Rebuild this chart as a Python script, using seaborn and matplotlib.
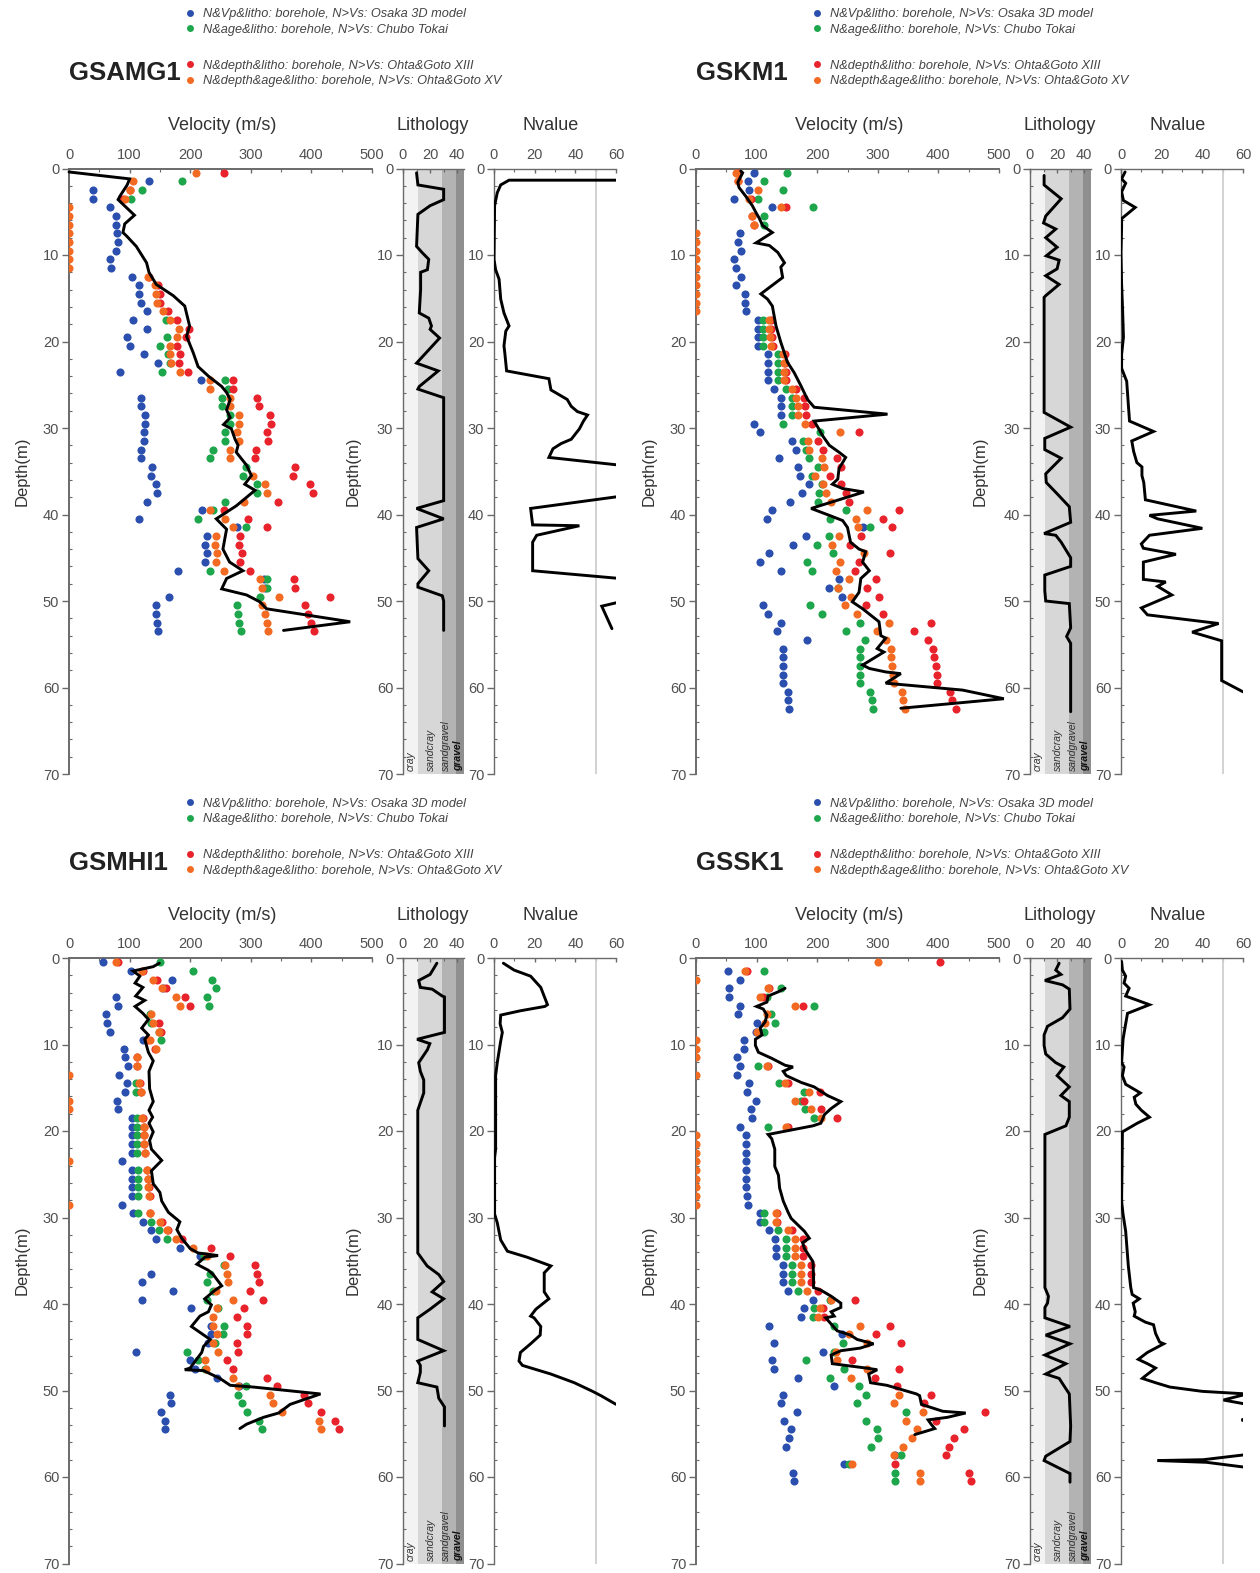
import matplotlib
matplotlib.use("Agg")
import matplotlib.pyplot as plt
from matplotlib.lines import Line2D
from matplotlib.ticker import MultipleLocator
import seaborn as sns

# ---------------------------------------------------------------- data
STATIONS = ["GSAMG1", "GSKM1", "GSMHI1", "GSSK1"]
LEGEND_LABELS = [
    "N&Vp&litho: borehole, N>Vs: Osaka 3D model",
    "N&age&litho: borehole, N>Vs: Chubo Tokai",
    "N&depth&litho: borehole, N>Vs: Ohta&Goto XIII",
    "N&depth&age&litho: borehole, N>Vs: Ohta&Goto XV",
]
LITH_CLASSES = ["cray", "sandcray", "sandgravel", "gravel"]
LITH_EDGES = [0, 11, 29, 39, 45]
VEL_TICKS = [0, 100, 200, 300, 400, 500]
LITH_TICKS = [0, 20, 40]
NVAL_TICKS = [0, 20, 40, 60]
DEPTH_TICKS = [0, 10, 20, 30, 40, 50, 60, 70]
NVAL_REF = 50

# (depth m, value) pairs
AMG_LINE = [(0.4, 0), (1.2, 100), (1.9, 96), (3.2, 84), (3.6, 81), (3.8, 84), (5.4, 108), (6.4, 92), (7.4, 89), (7.8, 95),
            (9.0, 111), (10.9, 128), (12.0, 132), (13.4, 144), (14.7, 172), (15.9, 191), (18.2, 199), (19.4, 194),
            (21.3, 205), (22.9, 213), (24.0, 230), (25.2, 252), (25.9, 260), (26.7, 266), (27.9, 260), (28.8, 266),
            (29.6, 255), (30.1, 268), (31.3, 274), (32.0, 279), (32.8, 276), (34.3, 293), (35.5, 301), (36.5, 290),
            (37.2, 307), (39.0, 276), (40.5, 243), (41.7, 260), (44.0, 254), (45.5, 265), (46.5, 287), (47.4, 260),
            (48.6, 252), (49.3, 293), (50.1, 315), (50.9, 326), (52.4, 464), (53.4, 354)]
AMG_BLUE = [(1.5, 132), (2.5, 40), (3.5, 40), (4.5, 67), (5.5, 77), (6.5, 78), (7.5, 79), (8.5, 81), (9.5, 78), (10.5, 68),
            (11.5, 70), (12.5, 104), (13.5, 116), (14.5, 116), (15.5, 118), (16.5, 129), (17.5, 106), (18.5, 128),
            (19.5, 95), (20.5, 100), (21.5, 123), (22.5, 147), (23.5, 84), (24.5, 217), (26.5, 119), (27.5, 119),
            (28.5, 125), (29.5, 126), (30.5, 123), (31.5, 124), (32.5, 119), (33.5, 119), (34.5, 137), (35.5, 136),
            (36.5, 144), (37.5, 146), (38.5, 129), (39.5, 219), (40.5, 116), (41.5, 278), (42.5, 227), (43.5, 224),
            (44.5, 227), (45.5, 225), (46.5, 180), (47.5, 321), (48.5, 324), (49.5, 165), (50.5, 143), (51.5, 144),
            (52.5, 146), (53.5, 147)]
AMG_GREEN = [(1.5, 186), (2.5, 120), (3.5, 102), (17.5, 160), (19.5, 162), (20.5, 150), (21.5, 163), (22.5, 166),
             (23.5, 153), (24.5, 257), (25.5, 262), (26.5, 252), (27.5, 252), (28.5, 266), (29.5, 266), (30.5, 257),
             (31.5, 258), (32.5, 238), (33.5, 233), (34.5, 292), (35.5, 287), (36.5, 310), (37.5, 310), (38.5, 257),
             (39.5, 238), (40.5, 213), (41.5, 292), (46.5, 232), (47.5, 326), (48.5, 326), (49.5, 316), (50.5, 277),
             (51.5, 279), (52.5, 281), (53.5, 284)]
AMG_RED = [(0.5, 255), (2.5, 100), (3.5, 89), (12.5, 132), (13.5, 147), (14.5, 150), (15.5, 150), (16.5, 163),
           (17.5, 179), (18.5, 198), (19.5, 193), (20.5, 178), (21.5, 183), (22.5, 181), (23.5, 197), (24.5, 270),
           (25.5, 270), (26.5, 311), (27.5, 314), (28.5, 332), (29.5, 334), (30.5, 326), (31.5, 328), (32.5, 309),
           (33.5, 307), (34.5, 373), (35.5, 369), (36.5, 398), (37.5, 402), (38.5, 345), (39.5, 256), (40.5, 296),
           (41.5, 326), (42.5, 282), (43.5, 281), (44.5, 285), (45.5, 283), (46.5, 299), (47.5, 372), (48.5, 373),
           (49.5, 431), (50.5, 389), (51.5, 394), (52.5, 400), (53.5, 404)]
AMG_ORANGE = [(0.5, 209), (1.5, 106), (2.5, 101), (3.5, 92), (4.5, 0), (5.5, 0), (6.5, 0), (7.5, 0), (8.5, 0), (9.5, 0),
              (10.5, 0), (11.5, 0), (12.5, 131), (13.5, 142), (14.5, 144), (15.5, 146), (16.5, 155), (17.5, 166),
              (18.5, 181), (19.5, 179), (20.5, 166), (21.5, 166), (22.5, 169), (23.5, 183), (24.5, 232), (25.5, 232),
              (26.5, 265), (27.5, 266), (28.5, 280), (29.5, 280), (30.5, 277), (31.5, 280), (32.5, 266), (33.5, 265),
              (35.5, 304), (36.5, 324), (37.5, 326), (38.5, 289), (39.5, 233), (40.5, 257), (41.5, 271), (42.5, 243),
              (43.5, 241), (44.5, 244), (45.5, 243), (46.5, 255), (47.5, 315), (48.5, 318), (49.5, 346), (50.5, 318),
              (51.5, 324), (52.5, 326), (53.5, 329)]
AMG_LITH = [(0.5, 10), (1.9, 11), (2.4, 30), (3.6, 30), (4.3, 20), (5.3, 11), (9.0, 10), (9.7, 14), (10.5, 19),
            (11.7, 18), (12.0, 13), (14.0, 13), (16.7, 12), (17.3, 19), (18.2, 21), (18.6, 20), (19.6, 27), (22.5, 10),
            (23.4, 26), (25.2, 12), (25.5, 11), (26.5, 30), (38.4, 30), (39.3, 10), (40.5, 30), (41.5, 10), (45.1, 11),
            (46.5, 19), (48.0, 11), (48.4, 11), (49.4, 29), (50.0, 30), (53.4, 30)]
AMG_NVAL = [(1.35, 62), (1.35, 7.4), (1.9, 3.3), (2.8, 1.6), (4.3, 0.3), (10.5, 0), (11.7, 0.8), (12.8, 2.5),
            (15.1, 3.3), (16.7, 4.9), (18.2, 7.4), (18.8, 5.8), (20.5, 4.9), (21.3, 5.3), (23.4, 6.2), (24.3, 27),
            (25.6, 28), (26.7, 36), (27.5, 38), (28.1, 41), (28.5, 46), (29.2, 44), (30.1, 42), (31.3, 38), (31.8, 33),
            (32.4, 29), (33.4, 27), (34.3, 62), (37.9, 62), (39.3, 18), (41.2, 19), (41.3, 42), (42.4, 21), (43.2, 19),
            (46.5, 19), (47.4, 62), (50.1, 62), (50.6, 53), (53.2, 58)]

KM_LINE = [(0.3, 74), (0.5, 77), (1.6, 69), (2.2, 71), (3.2, 82), (4.3, 93), (5.1, 99), (5.7, 104), (6.6, 110),
           (7.4, 126), (8.6, 99), (8.9, 121), (9.7, 135), (10.9, 146), (11.4, 140), (12.6, 143), (14.5, 107),
           (15.1, 118), (15.9, 126), (18.2, 132), (20.1, 140), (22.4, 151), (23.6, 162), (25.1, 173), (26.7, 184),
           (27.6, 195), (28.4, 316), (29.2, 195), (29.9, 201), (30.9, 209), (32.0, 220), (32.8, 236), (33.4, 247),
           (34.7, 236), (35.9, 234), (36.5, 225), (37.0, 242), (37.4, 277), (39.3, 190), (40.1, 220), (40.7, 242),
           (41.5, 250), (43.2, 255), (44.0, 269), (44.3, 280), (45.5, 275), (46.5, 286), (47.4, 272), (49.0, 269),
           (50.1, 258), (50.9, 275), (52.4, 302), (54.0, 305), (54.3, 313), (55.5, 299), (55.9, 310), (57.4, 275),
           (57.8, 286), (58.2, 313), (58.4, 338), (59.5, 313), (60.3, 440), (61.3, 508), (62.4, 338)]
KM_BLUE = [(0.5, 96), (1.5, 85), (2.5, 88), (3.5, 63), (4.5, 125), (7.5, 73), (8.5, 70), (9.5, 74), (10.5, 62),
           (11.5, 66), (12.5, 74), (13.5, 66), (14.5, 81), (15.5, 81), (16.5, 82), (17.5, 102), (18.5, 102), (19.5, 102),
           (20.5, 102), (21.5, 119), (22.5, 119), (23.5, 119), (24.5, 119), (25.5, 129), (26.5, 140), (27.5, 140),
           (28.5, 140), (29.5, 96), (30.5, 105), (31.5, 158), (32.5, 165), (33.5, 137), (34.5, 169), (35.5, 171),
           (36.5, 187), (37.5, 175), (38.5, 155), (39.5, 125), (40.5, 117), (41.5, 275), (42.5, 181), (43.5, 160),
           (44.5, 121), (45.5, 106), (46.5, 141), (47.5, 236), (48.5, 220), (49.5, 241), (50.5, 110), (51.5, 118),
           (52.5, 141), (53.5, 134), (54.5, 183), (55.5, 143), (56.5, 143), (57.5, 143), (58.5, 144), (59.5, 144),
           (60.5, 151), (61.5, 152), (62.5, 154)]
KM_GREEN = [(0.5, 150), (1.5, 113), (2.5, 143), (3.5, 103), (4.5, 193), (5.5, 112), (6.5, 112), (17.5, 110),
            (18.5, 110), (19.5, 110), (20.5, 110), (21.5, 135), (22.5, 135), (23.5, 135), (24.5, 135), (25.5, 148),
            (26.5, 159), (27.5, 159), (28.5, 159), (29.5, 144), (30.5, 204), (31.5, 176), (32.5, 182), (33.5, 187),
            (34.5, 202), (35.5, 191), (36.5, 208), (37.5, 203), (38.5, 202), (39.5, 247), (40.5, 221), (41.5, 287),
            (42.5, 220), (43.5, 199), (44.5, 226), (45.5, 183), (46.5, 192), (48.5, 234), (50.5, 188), (51.5, 208),
            (52.5, 271), (53.5, 247), (54.5, 279), (55.5, 271), (56.5, 271), (57.5, 271), (58.5, 271), (59.5, 271),
            (60.5, 287), (61.5, 290), (62.5, 292)]
KM_RED = [(0.5, 69), (1.5, 69), (3.5, 91), (4.5, 148), (5.5, 93), (6.5, 96), (17.5, 123), (18.5, 124), (19.5, 125),
          (20.5, 127), (21.5, 147), (22.5, 147), (23.5, 148), (24.5, 148), (25.5, 165), (26.5, 179), (27.5, 180),
          (28.5, 181), (29.5, 192), (30.5, 269), (31.5, 202), (32.5, 210), (33.5, 232), (34.5, 240), (35.5, 221),
          (36.5, 239), (37.5, 247), (38.5, 253), (39.5, 335), (40.5, 308), (41.5, 324), (42.5, 273), (43.5, 254),
          (44.5, 320), (45.5, 269), (46.5, 263), (47.5, 297), (48.5, 283), (49.5, 302), (50.5, 280), (51.5, 308),
          (52.5, 387), (53.5, 360), (54.5, 383), (55.5, 391), (56.5, 393), (57.5, 396), (58.5, 397), (59.5, 398),
          (60.5, 419), (61.5, 423), (62.5, 429)]
KM_ORANGE = [(0.5, 66), (1.5, 69), (2.5, 102), (3.5, 88), (4.5, 140), (5.5, 92), (6.5, 95), (7.5, 0), (8.5, 0),
             (9.5, 0), (10.5, 0), (11.5, 0), (12.5, 0), (13.5, 0), (14.5, 0), (15.5, 0), (16.5, 0), (17.5, 120),
             (18.5, 121), (19.5, 122), (20.5, 124), (21.5, 143), (22.5, 145), (23.5, 145), (24.5, 146), (25.5, 159),
             (26.5, 165), (27.5, 168), (28.5, 168), (29.5, 180), (30.5, 237), (31.5, 184), (32.5, 187), (33.5, 208),
             (34.5, 212), (35.5, 197), (36.5, 209), (37.5, 214), (38.5, 223), (39.5, 283), (40.5, 264), (41.5, 268),
             (42.5, 236), (43.5, 224), (44.5, 277), (45.5, 237), (46.5, 231), (47.5, 252), (48.5, 235), (49.5, 255),
             (50.5, 246), (51.5, 265), (52.5, 318), (53.5, 299), (54.5, 313), (55.5, 321), (56.5, 322), (57.5, 324),
             (58.5, 325), (59.5, 326), (60.5, 340), (61.5, 342), (62.5, 345)]
KM_LITH = [(0.8, 10.4), (1.9, 10.4), (3.5, 23), (5.5, 11.6), (6.3, 10), (7.0, 19), (8.0, 11.6), (9.1, 20), (10.1, 12),
           (10.6, 21.5), (11.6, 20), (12.4, 11.6), (13.4, 21.5), (14.7, 11.6), (14.9, 10.4), (28.2, 10.4), (29.9, 30),
           (31.2, 10.9), (32.5, 10.9), (33.5, 23), (35.3, 11.6), (36.3, 12), (37.6, 20), (39.1, 29), (40.9, 30),
           (42.2, 10.4), (42.4, 19), (43.2, 23), (45.0, 30), (46.0, 30), (47.0, 10.9), (48.8, 10.9), (50.0, 11.6),
           (50.3, 29), (53.1, 30), (54.1, 27), (54.9, 30), (62.8, 30)]
KM_NVAL = [(0.4, 2), (1.2, 0.3), (1.7, 2.3), (2.7, 0.3), (3.7, 1.2), (4.5, 7), (5.8, 0.3), (6.8, 0.3), (9.8, 0),
           (13.4, 0.3), (16.4, 0.8), (19.5, 1.2), (21.5, 0.3), (23.1, 0.3), (24.6, 2.8), (27.6, 3.7), (29.2, 4.2),
           (30.4, 16), (31.5, 5.3), (32.7, 6.2), (34.0, 7.8), (34.5, 10.3), (35.5, 10.3), (36.3, 11.2), (38.3, 12),
           (39.6, 37), (40.1, 14), (40.5, 18), (41.6, 40), (42.4, 14), (43.4, 10), (43.9, 11), (44.6, 27), (45.5, 11),
           (47.5, 11), (47.8, 22), (48.3, 18), (49.3, 25), (50.8, 10), (51.6, 13), (52.6, 48), (53.6, 35),
           (54.6, 49.5), (59.2, 49.5), (60.5, 60)]

MHI_LINE = [(0.6, 149), (1.0, 139), (1.5, 106), (2.1, 117), (2.9, 109), (3.4, 122), (4.4, 110), (4.9, 125), (5.6, 109),
            (6.4, 122), (7.1, 131), (8.1, 120), (8.9, 131), (9.4, 125), (10.9, 131), (11.9, 139), (13.1, 132),
            (15.1, 133), (16.6, 139), (17.6, 132), (18.4, 138), (19.1, 132), (20.1, 139), (21.1, 133), (22.1, 136),
            (23.4, 153), (24.6, 136), (26.1, 139), (27.1, 150), (28.1, 153), (29.4, 164), (30.5, 183), (31.4, 178),
            (32.4, 186), (33.6, 200), (34.1, 213), (34.4, 246), (34.6, 224), (35.4, 211), (36.1, 230), (36.6, 238),
            (37.9, 252), (38.4, 241), (39.4, 224), (40.1, 235), (40.9, 230), (41.4, 216), (42.6, 202), (44.1, 233),
            (44.9, 222), (45.6, 219), (47.4, 200), (47.6, 191), (47.7, 222), (48.6, 249), (49.4, 266), (49.6, 304),
            (50.4, 415), (51.6, 365), (52.6, 346), (53.1, 321), (53.9, 293), (54.4, 282)]
MHI_BLUE = [(0.5, 56), (1.5, 103), (2.5, 170), (3.5, 155), (4.5, 78), (5.5, 81), (6.5, 61), (7.5, 62), (8.5, 67),
            (9.5, 122), (10.5, 90), (11.5, 92), (12.5, 98), (13.5, 83), (14.5, 96), (15.5, 93), (16.5, 80), (17.5, 81),
            (18.5, 104), (19.5, 104), (20.5, 104), (21.5, 104), (22.5, 104), (23.5, 87), (24.5, 104), (25.5, 104),
            (26.5, 104), (27.5, 104), (28.5, 88), (29.5, 106), (30.5, 122), (31.5, 136), (32.5, 144), (33.5, 183),
            (34.5, 216), (36.5, 135), (37.5, 120), (38.5, 172), (39.5, 121), (40.5, 202), (42.5, 235), (43.5, 235),
            (44.5, 230), (45.5, 111), (46.5, 200), (47.5, 208), (48.5, 244), (49.5, 280), (50.5, 166), (51.5, 169),
            (52.5, 151), (53.5, 158), (54.5, 159)]
MHI_GREEN = [(0.5, 150), (1.5, 204), (2.5, 236), (3.5, 243), (4.5, 228), (5.5, 231), (6.5, 133), (7.5, 136),
             (8.5, 149), (9.5, 152), (14.5, 110), (15.5, 111), (18.5, 112), (19.5, 112), (20.5, 112), (21.5, 112),
             (22.5, 112), (24.5, 114), (25.5, 114), (26.5, 114), (27.5, 114), (29.5, 114), (30.5, 135), (31.5, 148),
             (32.5, 162), (34.5, 223), (35.5, 255), (36.5, 232), (37.5, 228), (38.5, 238), (39.5, 227), (40.5, 246),
             (42.5, 255), (43.5, 254), (44.5, 241), (45.5, 194), (46.5, 213), (47.5, 224), (49.5, 292), (50.5, 279),
             (51.5, 285), (52.5, 293), (53.5, 313), (54.5, 318)]
MHI_RED = [(0.5, 81), (1.5, 122), (2.5, 146), (3.5, 160), (4.5, 191), (5.5, 200), (7.5, 148), (8.5, 152), (9.5, 131),
           (10.5, 142), (11.5, 113), (12.5, 113), (14.5, 117), (15.5, 119), (18.5, 122), (19.5, 124), (20.5, 124),
           (21.5, 124), (22.5, 126), (24.5, 129), (25.5, 131), (26.5, 132), (27.5, 133), (29.5, 134), (30.5, 154),
           (31.5, 164), (32.5, 187), (33.5, 235), (34.5, 266), (35.5, 307), (36.5, 310), (37.5, 313), (38.5, 299),
           (39.5, 320), (40.5, 288), (41.5, 277), (42.5, 293), (43.5, 294), (44.5, 278), (45.5, 279), (46.5, 261),
           (47.5, 270), (48.5, 326), (49.5, 344), (50.5, 387), (51.5, 395), (52.5, 416), (53.5, 439), (54.5, 446)]
MHI_ORANGE = [(0.5, 78), (1.5, 121), (2.5, 138), (3.5, 153), (4.5, 176), (5.5, 183), (6.5, 135), (7.5, 138),
              (8.5, 149), (9.5, 133), (10.5, 144), (11.5, 112), (12.5, 112), (13.5, 0), (14.5, 116), (15.5, 118),
              (16.5, 0), (17.5, 0), (18.5, 121), (19.5, 123), (20.5, 123), (21.5, 123), (22.5, 125), (23.5, 0),
              (24.5, 128), (25.5, 130), (26.5, 131), (27.5, 132), (28.5, 0), (29.5, 133), (30.5, 150), (31.5, 161),
              (32.5, 176), (33.5, 204), (34.5, 227), (35.5, 257), (36.5, 260), (37.5, 263), (38.5, 243), (39.5, 271),
              (40.5, 244), (41.5, 238), (42.5, 238), (43.5, 244), (44.5, 238), (45.5, 246), (46.5, 224), (47.5, 226),
              (48.5, 271), (49.5, 279), (50.5, 332), (51.5, 337), (52.5, 351), (53.5, 412), (54.5, 416)]
MHI_LITH = [(0.6, 25), (1.9, 20), (2.6, 11.6), (3.4, 12.8), (3.6, 21.5), (4.4, 29), (4.5, 30.6), (8.6, 30.6),
            (9.4, 10.4), (9.9, 19.8), (10.6, 18), (12.1, 11.6), (13.1, 12.8), (14.1, 15.3), (15.6, 15.3), (17.6, 10.9),
            (34.1, 10.9), (35.6, 17.8), (36.6, 26.4), (37.4, 30), (38.6, 21.5), (39.4, 30), (40.6, 20), (41.6, 10.9),
            (44.1, 10.9), (45.4, 30), (46.6, 10.9), (47.1, 12.8), (47.9, 12.8), (49.1, 10.9), (49.6, 25), (50.9, 26.4),
            (51.9, 30.6), (54.1, 30.6)]
MHI_NVAL = [(0.6, 4.6), (1.4, 9.9), (2.1, 18), (3.4, 23), (5.4, 26.3), (5.6, 25), (6.1, 13), (6.6, 3.3), (7.6, 3),
            (8.6, 4.1), (9.6, 3.3), (12.1, 1.6), (13.6, 0.8), (22.1, 0.8), (23.1, 0.3), (29.6, 0.3), (30.6, 1.6),
            (32.6, 3.3), (33.9, 6.6), (34.6, 16.4), (35.6, 28), (36.4, 24.7), (37.1, 24.7), (38.6, 24.7), (39.4, 27),
            (40.6, 20.6), (41.4, 18), (41.6, 19.7), (42.6, 23), (43.6, 22.7), (44.6, 18), (45.6, 13), (46.6, 12.3),
            (47.1, 14), (48.1, 28), (49.1, 39.5), (50.1, 48.5), (50.6, 52.6), (51.6, 60)]

SK_LINE = [(3.5, 147), (3.9, 136), (4.4, 119), (5.1, 117), (5.6, 100), (5.9, 111), (6.6, 117), (7.4, 114), (8.1, 106),
           (8.9, 109), (9.4, 98), (10.1, 98), (10.9, 103), (11.6, 125), (12.4, 147), (12.6, 160), (13.1, 144),
           (13.6, 149), (14.4, 174), (14.9, 195), (15.9, 217), (16.6, 239), (17.4, 223), (18.1, 212), (19.1, 206),
           (19.4, 193), (20.4, 119), (20.9, 125), (22.1, 130), (24.1, 130), (25.1, 136), (26.6, 138), (28.1, 144),
           (29.4, 152), (30.1, 157), (31.6, 179), (32.4, 187), (32.9, 176), (33.6, 179), (35.1, 193), (36.9, 194),
           (38.1, 194), (38.4, 206), (39.1, 223), (39.9, 239), (40.4, 239), (40.9, 223), (41.4, 228), (41.6, 214),
           (43.1, 233), (43.6, 255), (44.1, 266), (44.6, 293), (45.1, 271), (45.4, 239), (45.9, 223), (46.9, 225),
           (47.4, 280), (47.6, 299), (48.1, 285), (49.1, 288), (49.4, 315), (50.4, 364), (50.6, 369), (51.6, 372),
           (52.4, 407), (52.6, 445), (53.1, 415), (53.4, 383), (53.9, 388), (54.4, 394), (55.1, 361)]
SK_BLUE = [(1.5, 53), (2.5, 72), (3.5, 55), (4.5, 54), (5.5, 73), (6.5, 69), (7.5, 100), (8.5, 99), (9.5, 79),
           (10.5, 80), (11.5, 67), (12.5, 72), (13.5, 68), (14.5, 88), (15.5, 84), (16.5, 99), (17.5, 91), (18.5, 93),
           (19.5, 72), (20.5, 83), (21.5, 83), (22.5, 83), (23.5, 83), (24.5, 83), (25.5, 83), (26.5, 83), (27.5, 84),
           (28.5, 86), (29.5, 106), (30.5, 106), (31.5, 121), (32.5, 131), (33.5, 132), (34.5, 132), (35.5, 143),
           (36.5, 143), (37.5, 143), (38.5, 151), (39.5, 193), (40.5, 178), (41.5, 173), (42.5, 121), (43.5, 241),
           (44.5, 128), (45.5, 210), (46.5, 125), (47.5, 128), (48.5, 169), (49.5, 228), (50.5, 143), (51.5, 140),
           (52.5, 167), (53.5, 145), (54.5, 157), (55.5, 153), (56.5, 149), (57.5, 328), (58.5, 244), (59.5, 160),
           (60.5, 161)]
SK_GREEN = [(1.5, 113), (3.5, 141), (4.5, 117), (5.5, 195), (6.5, 124), (7.5, 131), (8.5, 113), (12.5, 102),
            (14.5, 137), (15.5, 179), (16.5, 173), (17.5, 180), (18.5, 195), (19.5, 118), (29.5, 112), (30.5, 112),
            (31.5, 135), (32.5, 148), (33.5, 148), (34.5, 148), (35.5, 159), (36.5, 159), (37.5, 159), (38.5, 168),
            (39.5, 221), (40.5, 195), (41.5, 193), (42.5, 228), (44.5, 242), (45.5, 228), (46.5, 182), (47.5, 244),
            (48.5, 221), (49.5, 269), (50.5, 280), (51.5, 266), (52.5, 346), (53.5, 280), (54.5, 299), (55.5, 301),
            (56.5, 289), (57.5, 338), (58.5, 252), (59.5, 328), (60.5, 328)]
SK_RED = [(0.5, 403), (1.5, 84), (3.5, 121), (4.5, 111), (5.5, 176), (12.5, 119), (14.5, 151), (15.5, 204),
          (16.5, 179), (17.5, 207), (18.5, 233), (19.5, 151), (29.5, 134), (30.5, 134), (31.5, 158), (32.5, 176),
          (33.5, 176), (34.5, 176), (35.5, 190), (36.5, 190), (37.5, 190), (38.5, 201), (39.5, 263), (40.5, 209),
          (41.5, 212), (42.5, 320), (43.5, 297), (44.5, 339), (46.5, 258), (47.5, 335), (48.5, 296), (49.5, 331),
          (50.5, 388), (51.5, 377), (52.5, 477), (53.5, 396), (54.5, 442), (55.5, 426), (56.5, 417), (57.5, 413),
          (58.5, 328), (59.5, 451), (60.5, 454)]
SK_ORANGE = [(0.5, 301), (1.5, 81), (2.5, 0), (3.5, 119), (4.5, 106), (5.5, 163), (6.5, 117), (7.5, 114), (8.5, 100),
             (9.5, 0), (10.5, 0), (11.5, 0), (12.5, 117), (13.5, 0), (14.5, 147), (15.5, 187), (16.5, 163), (17.5, 189),
             (18.5, 206), (19.5, 149), (20.5, 0), (21.5, 0), (22.5, 0), (23.5, 0), (24.5, 0), (25.5, 0), (26.5, 0),
             (27.5, 0), (28.5, 0), (29.5, 132), (30.5, 132), (31.5, 152), (32.5, 163), (33.5, 163), (34.5, 163),
             (35.5, 174), (36.5, 174), (37.5, 174), (38.5, 183), (39.5, 223), (40.5, 204), (41.5, 201), (42.5, 271),
             (43.5, 252), (44.5, 282), (45.5, 231), (46.5, 233), (47.5, 283), (48.5, 255), (50.5, 335), (51.5, 327),
             (52.5, 375), (53.5, 346), (54.5, 365), (55.5, 356), (56.5, 342), (57.5, 326), (58.5, 258), (59.5, 369),
             (60.5, 369)]
SK_LITH = [(0.6, 21.5), (1.4, 19), (1.9, 22.8), (2.6, 11), (3.1, 24), (3.6, 29), (5.9, 29.5), (6.9, 24), (7.9, 12.9),
           (8.9, 10.4), (10.1, 10.4), (11.1, 11.6), (12.1, 19), (12.6, 25), (13.6, 20), (14.9, 29), (15.9, 22.8),
           (16.6, 29), (18.4, 29), (19.4, 26.5), (20.4, 11), (38.1, 11), (39.1, 13.6), (39.9, 12.9), (40.4, 11),
           (41.6, 11), (42.6, 29.5), (43.6, 11.6), (44.6, 29.5), (45.9, 11), (46.9, 26.5), (48.1, 11.6), (48.6, 21.5),
           (50.4, 29), (54.1, 30), (55.9, 29.5), (57.6, 11.6), (58.1, 10.4), (59.6, 29.5), (60.6, 29.5)]
SK_NVAL = [(0.4, 0.3), (1.4, 0.7), (2.1, 2.3), (2.9, 1.5), (3.5, 4), (4.4, 2.3), (5.4, 14), (6.4, 3.2), (7.6, 2.3),
           (9.4, 1), (12.1, 0.3), (12.6, 1.5), (13.6, 0.7), (14.6, 2.3), (15.6, 9.5), (16.1, 6.5), (16.9, 7.3),
           (17.6, 10), (18.4, 14), (19.1, 8), (20.1, 0.7), (28.1, 0.3), (29.6, 1), (31.6, 2.3), (35.6, 3.6),
           (38.1, 4.8), (38.9, 5.5), (39.4, 9), (39.9, 6), (40.9, 7), (41.4, 6.5), (42.1, 12), (42.4, 16),
           (43.4, 17), (44.4, 19), (44.6, 21), (45.6, 13), (46.4, 8.5), (46.9, 13), (47.4, 17), (48.4, 11.5),
           (48.6, 10.5), (49.1, 17), (49.6, 24), (50.1, 40), (50.4, 62), (51.1, 50.4), (51.6, 62),
           (53.2, 62), (53.4, 59.3), (53.6, 62), (57.4, 62), (58.0, 40.5), (58.1, 18), (58.3, 42), (58.9, 62)]

STATION_DATA = [
    (AMG_LINE, AMG_BLUE, AMG_GREEN, AMG_RED, AMG_ORANGE, AMG_LITH, AMG_NVAL),
    (KM_LINE, KM_BLUE, KM_GREEN, KM_RED, KM_ORANGE, KM_LITH, KM_NVAL),
    (MHI_LINE, MHI_BLUE, MHI_GREEN, MHI_RED, MHI_ORANGE, MHI_LITH, MHI_NVAL),
    (SK_LINE, SK_BLUE, SK_GREEN, SK_RED, SK_ORANGE, SK_LITH, SK_NVAL),
]

# ---------------------------------------------------------------- style
C_BLUE, C_GREEN, C_RED, C_ORANGE = "#2b4fae", "#1ea64c", "#e8232c", "#f36a22"
BAND_COLORS = ["#f3f3f3", "#d7d7d7", "#b3b3b3", "#8f8f8f"]
SPINE = "#6a6a6a"
TXT = "#505050"

sns.set_style("white")
plt.rcParams["font.family"] = ["Liberation Sans", "DejaVu Sans"]

W, H = 1260, 1573
fig = plt.figure(figsize=(W / 100, H / 100), dpi=100)
fig.patch.set_facecolor("white")


def rect(x0, x1, y0, y1):
    return [x0 / W, 1 - y1 / H, (x1 - x0) / W, (y1 - y0) / H]


def split(pts):
    return [p[0] for p in pts], [p[1] for p in pts]


def style_axis(ax, xmax, xticks, xminor):
    ax.set_xlim(0, xmax)
    ax.set_ylim(70, 0)
    ax.xaxis.tick_top()
    ax.set_xticks(xticks)
    ax.xaxis.set_minor_locator(MultipleLocator(xminor))
    ax.set_yticks(DEPTH_TICKS)
    ax.yaxis.set_minor_locator(MultipleLocator(2))
    for s in ("right", "bottom"):
        ax.spines[s].set_visible(False)
    for s in ("left", "top"):
        ax.spines[s].set_color(SPINE)
        ax.spines[s].set_linewidth(1.4)
    ax.tick_params(axis="x", which="major", direction="in", length=3, width=1, color=SPINE,
                   labelsize=10.5, labelcolor=TXT, pad=5, top=True, bottom=False)
    ax.tick_params(axis="x", which="minor", direction="in", length=2, width=0.8, color=SPINE, top=True, bottom=False)
    ax.tick_params(axis="y", which="major", direction="out", length=5, width=1, color=SPINE,
                   labelsize=10.5, labelcolor=TXT, pad=2, left=True)
    ax.tick_params(axis="y", which="minor", direction="in", length=2.5, width=0.8, color=SPINE, left=True)
    ax.set_xlabel("")
    ax.set_ylabel("")
    ax.set_facecolor("none")


def trace(ax, pts, clip=True):
    d, v = split(pts)
    sns.lineplot(x=v, y=d, ax=ax, sort=False, estimator=None, color="black", lw=2.1, zorder=5, legend=False)
    ax.lines[-1].set_clip_on(clip)
    ax.lines[-1].set_solid_joinstyle("miter")


for i, name in enumerate(STATIONS):
    dx = 0 if i % 2 == 0 else 627
    dy = 0 if i < 2 else 789.5
    line, blue, green, red, orange, lith, nval = STATION_DATA[i]
    y0, y1 = 168.5 + dy, 774 + dy

    # velocity
    ax = fig.add_axes(rect(69 + dx, 372 + dx, y0, y1))
    for pts, col in ((blue, C_BLUE), (green, C_GREEN), (red, C_RED), (orange, C_ORANGE)):
        d, v = split(pts)
        sns.scatterplot(x=v, y=d, ax=ax, color=col, s=34, linewidth=0, zorder=3, legend=False)
    trace(ax, line, clip=False)
    style_axis(ax, 500, VEL_TICKS, 50)

    # lithology
    axl = fig.add_axes(rect(403 + dx, 464 + dx, y0, y1))
    for k in range(4):
        axl.axvspan(LITH_EDGES[k], LITH_EDGES[k + 1], color=BAND_COLORS[k], lw=0, zorder=0)
    trace(axl, lith)
    style_axis(axl, 45, LITH_TICKS, 10)
    axl.spines["left"].set_linewidth(1.0)
    axl.spines["top"].set_linewidth(1.0)
    label_x = [6, 21, 32, 40.5]
    for k, cls in enumerate(LITH_CLASSES):
        axl.text(label_x[k], 69.7, cls, rotation=90, ha="center", va="bottom", fontsize=7.5,
                 style="italic", color="#111111" if k == 3 else "#333333",
                 fontweight="bold" if k == 3 else "normal", zorder=6)

    # N value
    axn = fig.add_axes(rect(494 + dx, 616 + dx, y0, y1))
    axn.axvline(NVAL_REF, color="#cfcfcf", lw=1.3, zorder=1)
    trace(axn, nval)
    style_axis(axn, 60, NVAL_TICKS, 10)
    axn.spines["left"].set_linewidth(1.0)
    axn.spines["top"].set_linewidth(1.0)

    # texts
    fig.text((69 + dx) / W, 1 - (73.5 + dy) / H, name, fontsize=18.5, fontweight="bold", color="#222222",
             ha="left", va="center")
    fig.text((222 + dx) / W, 1 - (125.5 + dy) / H, "Velocity (m/s)", fontsize=13, color="#333333",
             ha="center", va="center")
    fig.text((433 + dx) / W, 1 - (125.5 + dy) / H, "Lithology", fontsize=13, color="#333333",
             ha="center", va="center")
    fig.text((551 + dx) / W, 1 - (125.5 + dy) / H, "Nvalue", fontsize=13, color="#333333",
             ha="center", va="center")
    fig.text((22 + dx) / W, 1 - (471 + dy) / H, "Depth(m)", fontsize=12, color="#333333",
             ha="center", va="center", rotation=90)
    fig.text((353 + dx) / W, 1 - (471 + dy) / H, "Depth(m)", fontsize=12, color="#333333",
             ha="center", va="center", rotation=90)

    # legends
    prop = {"style": "italic", "size": 9.2}
    cols = [C_BLUE, C_GREEN, C_RED, C_ORANGE]
    handles = [Line2D([], [], marker="o", ls="none", color=c, markersize=5, markeredgewidth=0) for c in cols]
    for part, yc in ((0, 22), (2, 73.5)):
        fig.legend(handles[part:part + 2], LEGEND_LABELS[part:part + 2], loc="center left",
                   bbox_to_anchor=((184 + dx) / W, 1 - (yc + dy) / H), frameon=False, prop=prop,
                   handlelength=0.9, handletextpad=0.6, labelspacing=0.3, borderpad=0, borderaxespad=0,
                   labelcolor="#444444")

fig.savefig("out.png", dpi=100, facecolor="white")
